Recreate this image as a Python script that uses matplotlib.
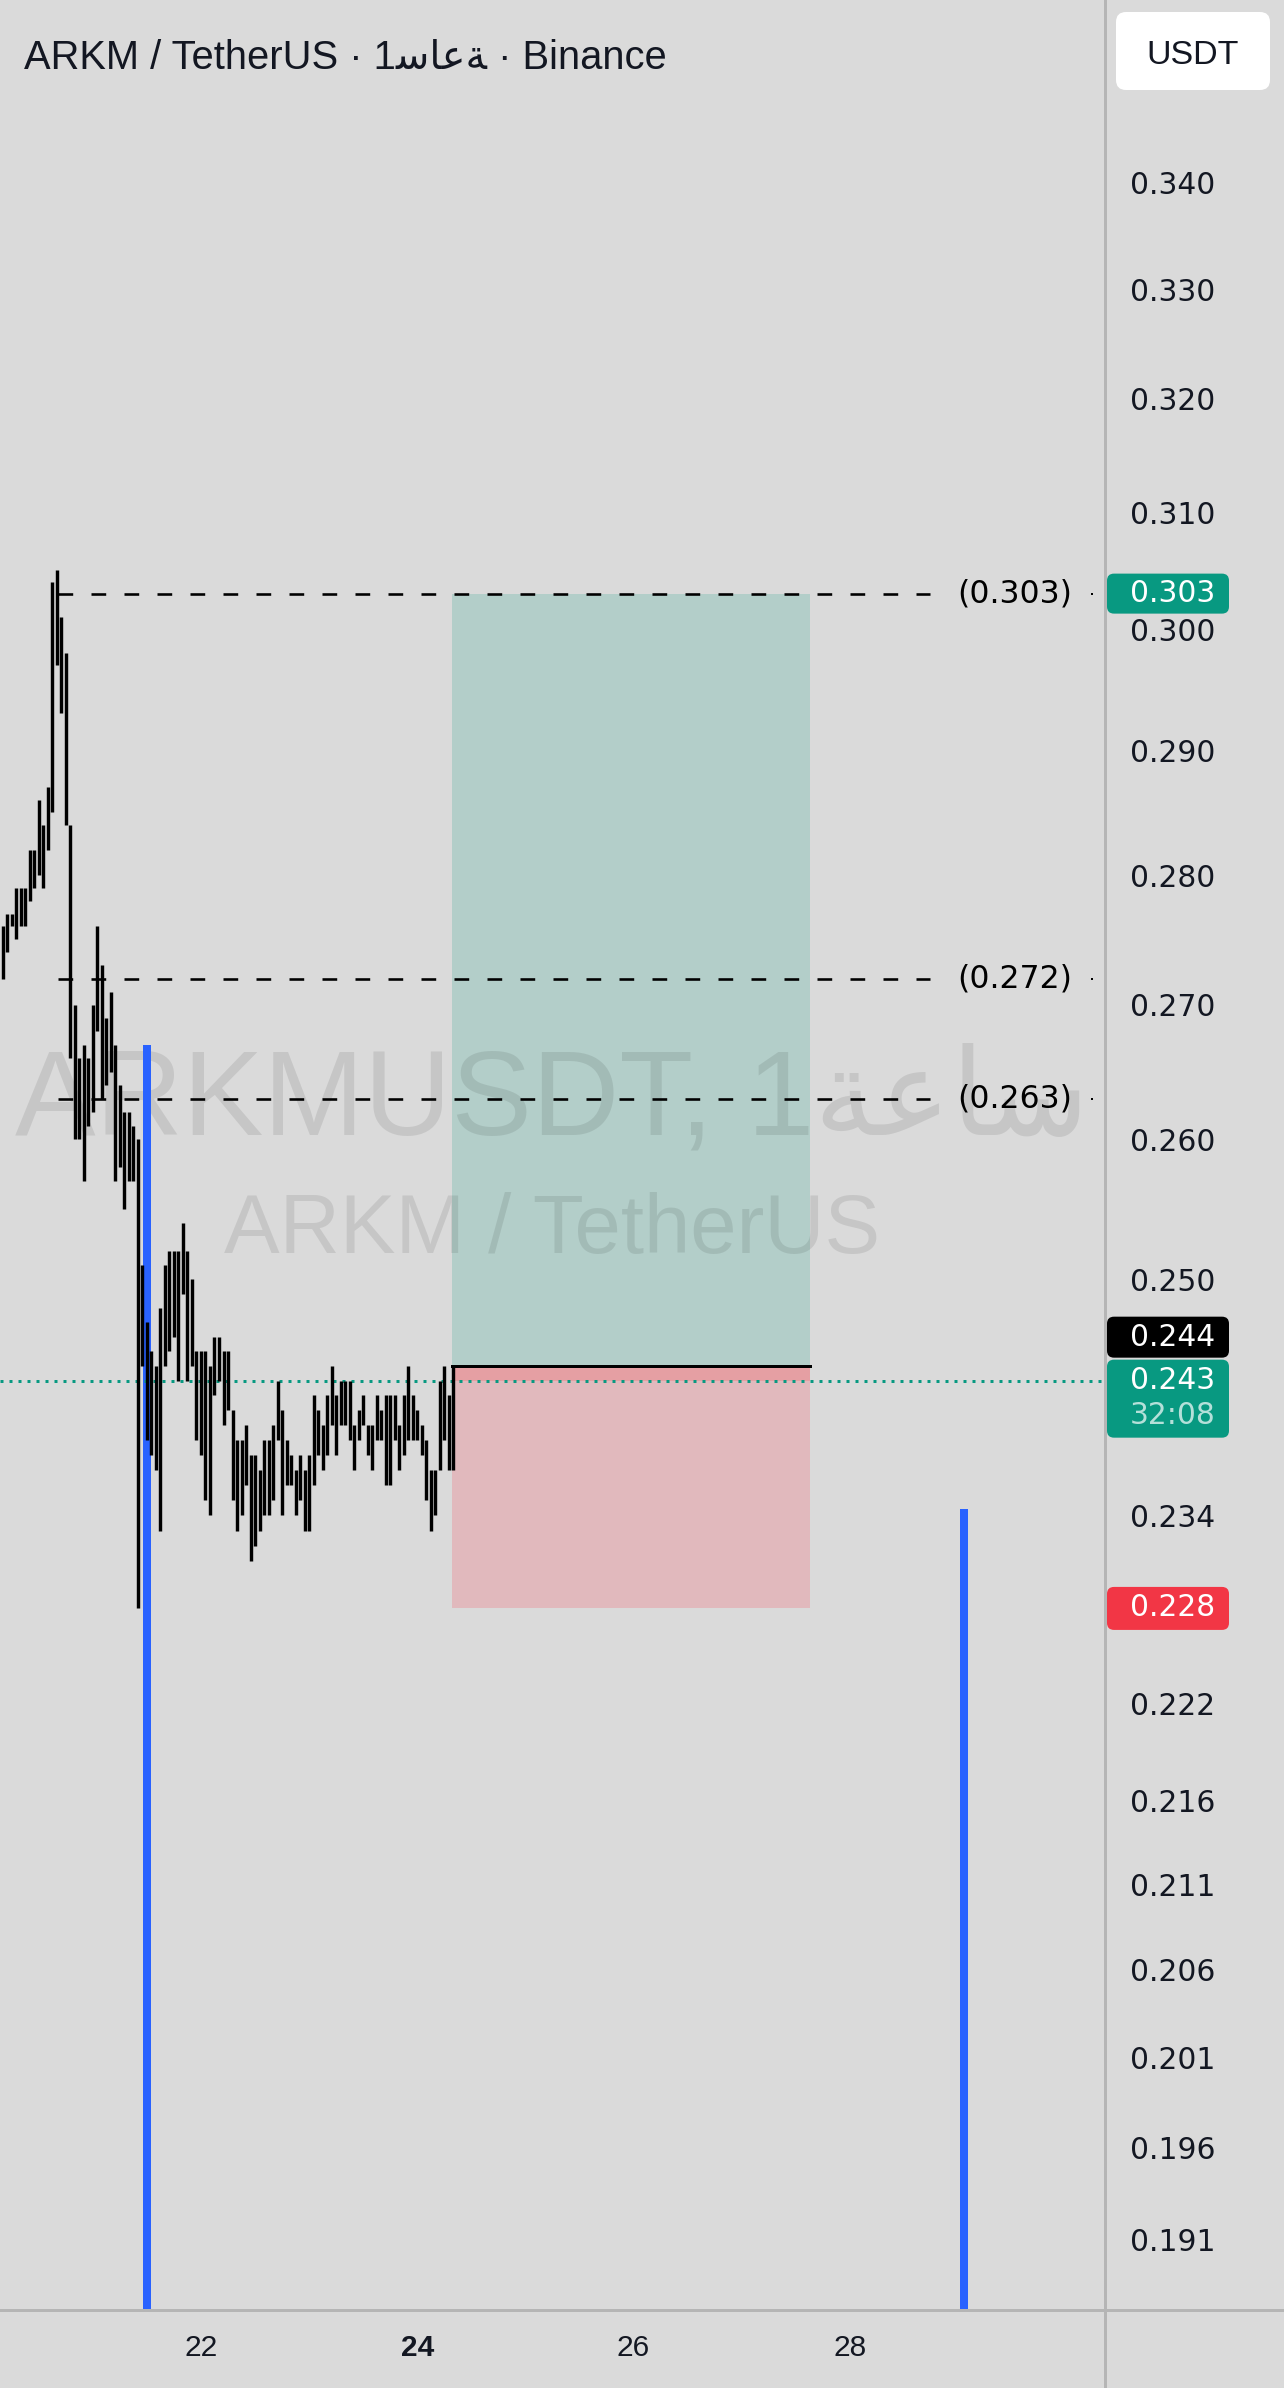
import numpy as np
import matplotlib
matplotlib.use('Agg')
import matplotlib.pyplot as plt
from matplotlib.patches import FancyBboxPatch, Rectangle
from matplotlib.lines import Line2D
from matplotlib.transforms import IdentityTransform, blended_transform_factory
from matplotlib.ticker import NullLocator

plt.rcParams['lines.scale_dashes'] = False
plt.rcParams['font.family'] = ['DejaVu Sans']

# hourly bars, hour 0 = day 20 04:00
bar_high = [0.276, 0.277, 0.277, 0.279, 0.279, 0.279, 0.282, 0.282, 0.286, 0.284,
            0.287, 0.304, 0.305, 0.301, 0.298, 0.284, 0.270, 0.266, 0.267, 0.266,
            0.270, 0.276, 0.273, 0.269, 0.271, 0.267, 0.264, 0.262, 0.262, 0.261,
            0.260, 0.251, 0.247, 0.245, 0.244, 0.248, 0.251, 0.252, 0.252, 0.252,
            0.254, 0.252, 0.250, 0.245, 0.245, 0.245, 0.244, 0.246, 0.246, 0.245,
            0.245, 0.241, 0.239, 0.239, 0.240, 0.238, 0.238, 0.237, 0.239, 0.239,
            0.240, 0.243, 0.241, 0.239, 0.238, 0.237, 0.238, 0.237, 0.238, 0.242,
            0.241, 0.240, 0.242, 0.244, 0.242, 0.243, 0.243, 0.243, 0.240, 0.241,
            0.242, 0.240, 0.240, 0.242, 0.241, 0.242, 0.242, 0.242, 0.240, 0.242,
            0.244, 0.242, 0.241, 0.240, 0.239, 0.237, 0.237, 0.243, 0.244, 0.242,
            0.244]
bar_low = [0.272, 0.274, 0.276, 0.275, 0.276, 0.276, 0.278, 0.279, 0.280, 0.279,
           0.282, 0.285, 0.297, 0.293, 0.284, 0.266, 0.260, 0.260, 0.257, 0.261,
           0.262, 0.268, 0.263, 0.264, 0.265, 0.257, 0.258, 0.255, 0.257, 0.257,
           0.228, 0.244, 0.239, 0.238, 0.237, 0.233, 0.244, 0.245, 0.246, 0.243,
           0.249, 0.243, 0.244, 0.239, 0.238, 0.235, 0.234, 0.242, 0.243, 0.240,
           0.241, 0.235, 0.233, 0.234, 0.236, 0.231, 0.232, 0.233, 0.234, 0.234,
           0.235, 0.239, 0.234, 0.236, 0.236, 0.234, 0.235, 0.233, 0.233, 0.236,
           0.238, 0.237, 0.238, 0.240, 0.238, 0.240, 0.240, 0.239, 0.237, 0.239,
           0.240, 0.238, 0.237, 0.239, 0.239, 0.236, 0.236, 0.239, 0.237, 0.238,
           0.239, 0.239, 0.239, 0.238, 0.235, 0.233, 0.234, 0.237, 0.239, 0.237,
           0.237]
hours = np.arange(len(bar_high))

price_ticks = [0.340, 0.330, 0.320, 0.310, 0.300, 0.290, 0.280, 0.270, 0.260, 0.250,
               0.234, 0.222, 0.216, 0.211, 0.206, 0.201, 0.196, 0.191]
day_ticks = [44, 92, 140, 188]
day_labels = ['22', '24', '26', '28']

levels = [0.303, 0.272, 0.263]
level_start, level_end, level_dot = 12.3, 205.8, 241.7

entry = 0.244
target = 0.303
stop = 0.228
last_price = 0.243
countdown = '32:08'
box_start, box_end = 99.7, 179.2

vline_hours = [32.1, 213.3]
vline_tops = [0.267, 0.2344]

title = 'ARKM / TetherUS · 1\ufeb3\ufe8e\ufecb\ufe94 · Binance'
wm_line1 = 'ARKMUSDT, 1\ufe94\ufecb\ufe8e\ufeb3'
wm_line2 = 'ARKM / TetherUS'

W, H = 1284, 2388
BG = '#dadada'
TXT = '#131722'
PX = 0.72  # points per pixel at dpi 100

fig = plt.figure(figsize=(W / 100, H / 100), dpi=100, facecolor=BG)
ax = fig.add_axes([0, 78 / H, 1104 / W, 2310 / H])
ax.set_facecolor(BG)
ax.set_yscale('log')
ax.set_xlim(-0.6, 244.4)
ax.set_ylim(0.18726, 0.35787)
for s in ax.spines.values():
    s.set_visible(False)

ax.yaxis.tick_right()
ax.set_yticks(price_ticks, labels=[f'{p:.3f}' for p in price_ticks])
ax.yaxis.set_minor_locator(NullLocator())
ax.tick_params(axis='y', length=0, pad=26 * PX, labelsize=21.4, labelcolor=TXT)
ax.set_xticks(day_ticks, labels=day_labels)
ax.tick_params(axis='x', length=0, pad=24 * PX, labelsize=21.5, labelcolor=TXT)
for lab in ax.get_xticklabels():
    lab.set_fontfamily(['Liberation Sans', 'DejaVu Sans'])
ax.get_xticklabels()[1].set_fontweight('bold')

# watermark
wm_font = ['Liberation Sans', 'DejaVu Sans']
ax.text(0.5, 0.5225, wm_line1, transform=ax.transAxes, ha='center', va='center',
        fontsize=87, color=(0, 0, 0, 0.09), family=wm_font, zorder=2)
ax.text(0.5, 0.4671, wm_line2, transform=ax.transAxes, ha='center', va='center',
        fontsize=60, color=(0, 0, 0, 0.09), family=wm_font, zorder=2)

# long / short position boxes
ax.add_patch(Rectangle((box_start, entry), box_end - box_start, target - entry,
                       fc='#b3cec9', ec='none', zorder=1))
ax.add_patch(Rectangle((box_start, stop), box_end - box_start, entry - stop,
                       fc='#e1b9bd', ec='none', zorder=1))
ax.add_patch(Rectangle((box_start, last_price), box_end - box_start, entry - last_price,
                       fc='#e59fa3', ec='none', zorder=1))
ax.plot([box_start, box_end], [entry, entry], color='black', lw=3 * PX, zorder=6)

# vertical blue lines
ax.vlines(vline_hours, ax.get_ylim()[0], vline_tops, color='#2962ff', lw=8 * PX,
          capstyle='butt', zorder=3)

# horizontal levels
blend = blended_transform_factory(ax.transAxes, ax.transData)
for lv in levels:
    ax.plot([level_start, level_end], [lv, lv], color='black', lw=2.6 * PX,
            dashes=(14.7 * PX, 18.3 * PX), zorder=4)
    ax.plot([level_dot], [lv], 's', ms=2 * PX, color='black', mew=0, zorder=4)
    ax.text(0.919, lv, f'({lv:.3f})', transform=blend, ha='center', va='center',
            fontsize=22.7, color='black', zorder=7)

# last price dotted line
ax.axhline(last_price, color='#089981', lw=3 * PX, dashes=(3 * PX, 6 * PX), zorder=4)

# bars
ax.vlines(hours, bar_low, bar_high, color='black', lw=3.4 * PX, capstyle='butt', zorder=5)

# dividers
fig.add_artist(Line2D([1104.5, 1104.5], [0, H], transform=IdentityTransform(),
                      color='#b5b5b5', lw=3 * PX))
fig.add_artist(Line2D([0, W], [78, 78], transform=IdentityTransform(),
                      color='#b5b5b5', lw=3 * PX))


def badge(y0, y1, color):
    fig.add_artist(FancyBboxPatch((1107, y0), 122, y1 - y0,
                                  boxstyle='round,pad=0,rounding_size=7',
                                  transform=IdentityTransform(), fc=color, ec='none'))


def badge_text(y, s, color='white'):
    fig.text(1130, y, s, transform=IdentityTransform(), ha='left', va='center',
             fontsize=21.4, color=color)


def ydisp(p):
    return ax.transData.transform((0, p))[1]


yt = ydisp(target)
badge(yt - 20, yt + 20, '#089981')
badge_text(yt, f'{target:.3f}')

ys = ydisp(stop)
badge(ys - 22, ys + 21, '#f23645')
badge_text(ys, f'{stop:.3f}')

yl = ydisp(last_price)
badge(yl - 57, yl + 21, '#089981')
badge_text(yl, f'{last_price:.3f}')
badge_text(yl - 35, countdown, color=(1, 1, 1, 0.7))
badge(yl + 23, yl + 64, 'black')
badge_text(yl + 43.5, f'{entry:.3f}')

# title and currency button
fig.text(24, H - 58, title, transform=IdentityTransform(), ha='left', va='center',
         fontsize=28.7, color=TXT, family=['Liberation Sans', 'DejaVu Sans'])
fig.add_artist(FancyBboxPatch((1116, H - 90), 154, 78, boxstyle='round,pad=0,rounding_size=10',
                              transform=IdentityTransform(), fc='white', ec='none'))
fig.text(1193, H - 55, 'USDT', transform=IdentityTransform(), ha='center', va='center',
         fontsize=24.5, color=TXT, family=['Liberation Sans', 'DejaVu Sans'])

fig.savefig('out.png', dpi=100, facecolor=BG)
